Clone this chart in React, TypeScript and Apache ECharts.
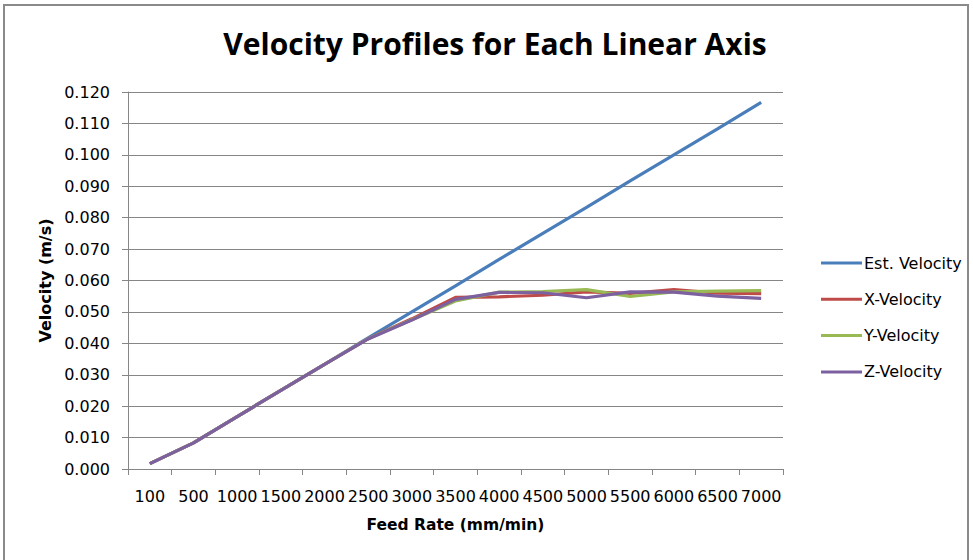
import React, { useEffect, useRef } from "react";
import * as echarts from "echarts";

const feedRates = ["100", "500", "1000", "1500", "2000", "2500", "3000", "3500", "4000", "4500", "5000", "5500", "6000", "6500", "7000"];
const estVelocity = [0.0017, 0.0083, 0.0167, 0.025, 0.0333, 0.0417, 0.05, 0.0583, 0.0667, 0.075, 0.0833, 0.0917, 0.1, 0.1083, 0.1167];
const xVelocity = [0.0017, 0.0083, 0.0167, 0.025, 0.0333, 0.0415, 0.0478, 0.0546, 0.0548, 0.0553, 0.0564, 0.0559, 0.0571, 0.0560, 0.0558];
const yVelocity = [0.0017, 0.0083, 0.0167, 0.025, 0.0333, 0.0415, 0.0475, 0.0535, 0.0563, 0.0565, 0.0571, 0.0549, 0.0564, 0.0566, 0.0568];
const zVelocity = [0.0017, 0.0083, 0.0167, 0.025, 0.0333, 0.0414, 0.0474, 0.0540, 0.0562, 0.0561, 0.0545, 0.0564, 0.0563, 0.0550, 0.0543];
const seriesNames = ["Est. Velocity", "X-Velocity", "Y-Velocity", "Z-Velocity"];
const seriesColors = ["#4A7EBB", "#BE4B48", "#98B954", "#7D60A0"];

const TITLE_FONT = "'Open Sans', 'Noto Sans', sans-serif";
const FONT = "'DejaVu Sans', 'Noto Sans', sans-serif";

export default function App() {
  const ref = useRef<HTMLDivElement>(null);
  useEffect(() => {
    if (!ref.current) return;
    const chart = echarts.init(ref.current, undefined, { renderer: "svg" });
    const dataSets = [estVelocity, xVelocity, yVelocity, zVelocity];
    chart.setOption({
      animation: false,
      backgroundColor: "#ffffff",
      title: {
        text: "Velocity Profiles for Each Linear Axis",
        left: 490,
        textAlign: "center",
        top: 23,
        textStyle: { fontFamily: TITLE_FONT, fontSize: 30, fontWeight: "bold", color: "#000" },
      },
      graphic: [
        {
          type: "rect",
          shape: { x: 4, y: 5, width: 964, height: 600 },
          style: { fill: "none", stroke: "#8a8a8a", lineWidth: 2 },
          silent: true,
        },
      ],
      legend: {
        orient: "vertical",
        left: 816,
        top: 249,
        itemWidth: 41,
        itemHeight: 3,
        itemGap: 18.3,
        icon: "rect",
        data: seriesNames,
        textStyle: { fontFamily: FONT, fontSize: 16, color: "#000", lineHeight: 18, padding: [0, 0, 0, -3] },
      },
      grid: { left: 128, right: 190, top: 92, bottom: 91, containLabel: false },
      xAxis: {
        type: "category",
        data: feedRates,
        boundaryGap: true,
        name: "Feed Rate (mm/min)",
        nameLocation: "middle",
        nameGap: 48,
        nameTextStyle: { fontFamily: FONT, fontSize: 15.5, fontWeight: "bold", color: "#000" },
        axisLine: { lineStyle: { color: "#868686", width: 1 } },
        axisTick: { show: true, length: 6, inside: false, alignWithLabel: false, lineStyle: { color: "#868686" } },
        axisLabel: { fontFamily: FONT, fontSize: 16, color: "#000", margin: 19, interval: 0 },
        splitLine: { show: false },
      },
      yAxis: {
        type: "value",
        min: 0,
        max: 0.12,
        interval: 0.01,
        name: "Velocity (m/s)",
        nameLocation: "middle",
        nameGap: 72,
        nameTextStyle: { fontFamily: FONT, fontSize: 16, fontWeight: "bold", color: "#000" },
        axisLine: { show: true, lineStyle: { color: "#868686", width: 1 } },
        axisTick: { show: true, length: 6, lineStyle: { color: "#868686" } },
        axisLabel: {
          fontFamily: FONT,
          fontSize: 16,
          color: "#000",
          margin: 18,
          formatter: (v: number) => v.toFixed(3),
        },
        splitLine: { show: true, lineStyle: { color: "#868686", width: 1 } },
      },
      series: seriesNames.map((name, i) => ({
        name,
        type: "line",
        data: dataSets[i],
        symbol: "none",
        showSymbol: false,
        lineStyle: { width: 3.2, color: seriesColors[i] },
        itemStyle: { color: seriesColors[i] },
      })),
    });
    return () => chart.dispose();
  }, []);
  return (
    <div
      ref={ref}
      style={{ position: "fixed", left: 0, top: 0, width: 973, height: 560 }}
    />
  );
}
